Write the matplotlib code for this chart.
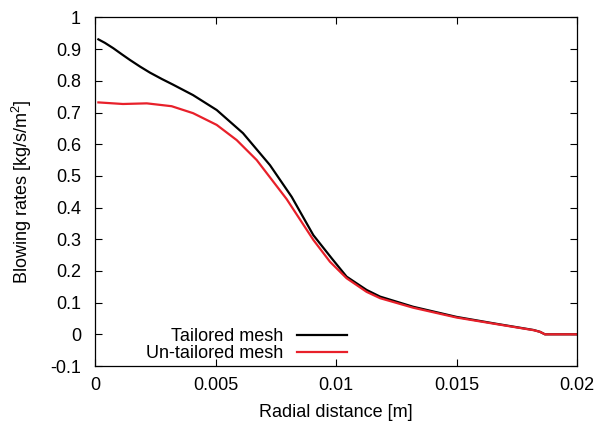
import matplotlib
matplotlib.use("Agg")
import matplotlib.pyplot as plt
from matplotlib.ticker import FuncFormatter

# values
x_tailored = [0.00014, 0.00041, 0.00076, 0.00111, 0.00145, 0.00187, 0.00228, 0.00277,
              0.00324, 0.00407, 0.00505, 0.00614, 0.00726, 0.00816, 0.00906, 0.00982,
              0.01044, 0.01127, 0.01183, 0.0132, 0.0150, 0.01667, 0.0182, 0.01846,
              0.01867, 0.0200]
y_tailored = [0.931, 0.920, 0.903, 0.884, 0.866, 0.845, 0.826, 0.806,
              0.788, 0.755, 0.708, 0.635, 0.534, 0.434, 0.313, 0.240,
              0.182, 0.140, 0.119, 0.087, 0.055, 0.033, 0.0136, 0.008,
              0.0, 0.0]

x_untailored = [0.00014, 0.00116, 0.00215, 0.00318, 0.00407, 0.00505, 0.00588, 0.00671,
                0.00795, 0.00906, 0.00975, 0.01044, 0.01127, 0.01183, 0.0132,
                0.0150, 0.01667, 0.0182, 0.01846, 0.01867, 0.0200]
y_untailored = [0.732, 0.727, 0.729, 0.720, 0.698, 0.661, 0.613, 0.550,
                0.427, 0.298, 0.229, 0.177, 0.134, 0.114, 0.084,
                0.053, 0.032, 0.013, 0.008, 0.0, 0.0]

x_ticks = [0, 0.005, 0.01, 0.015, 0.02]
y_ticks = [-0.1, 0, 0.1, 0.2, 0.3, 0.4, 0.5, 0.6, 0.7, 0.8, 0.9, 1]

plt.rcParams["font.family"] = ["Liberation Sans", "DejaVu Sans"]
plt.rcParams["mathtext.default"] = "regular"

fig = plt.figure(figsize=(6.05, 4.23), dpi=100)
ax = fig.add_axes([95 / 605, 1 - 366 / 423, (577 - 95) / 605, (366 - 17.5) / 423])

ax.plot(x_tailored, y_tailored, "-", color="black", lw=1.6, label="Tailored mesh")
ax.plot(x_untailored, y_untailored, "-", color="#e8202a", lw=1.6, label="Un-tailored mesh")

ax.set_xlim(0, 0.02)
ax.set_ylim(-0.1, 1)
ax.set_xticks(x_ticks)
ax.set_yticks(y_ticks)
ax.xaxis.set_major_formatter(FuncFormatter(lambda v, p: f"{v:g}"))
ax.yaxis.set_major_formatter(FuncFormatter(lambda v, p: f"{v:g}"))
ax.tick_params(direction="in", top=True, right=True, length=5, width=0.8,
               labelsize=13)
ax.tick_params(axis="x", pad=8)
ax.tick_params(axis="y", pad=10)
for s in ax.spines.values():
    s.set_linewidth(0.9)

ax.set_xlabel("Radial distance [m]", fontsize=13, labelpad=7)
ax.set_ylabel(r"Blowing rates [kg/s/m$^2$]", fontsize=13, labelpad=12)

ax.legend(loc="lower right", bbox_to_anchor=(0.545, -0.02), frameon=False,
          markerfirst=False, fontsize=13, handlelength=2.75, handletextpad=0.75,
          labelspacing=0.0, borderaxespad=0.2)

fig.savefig("out.png", dpi=100)
